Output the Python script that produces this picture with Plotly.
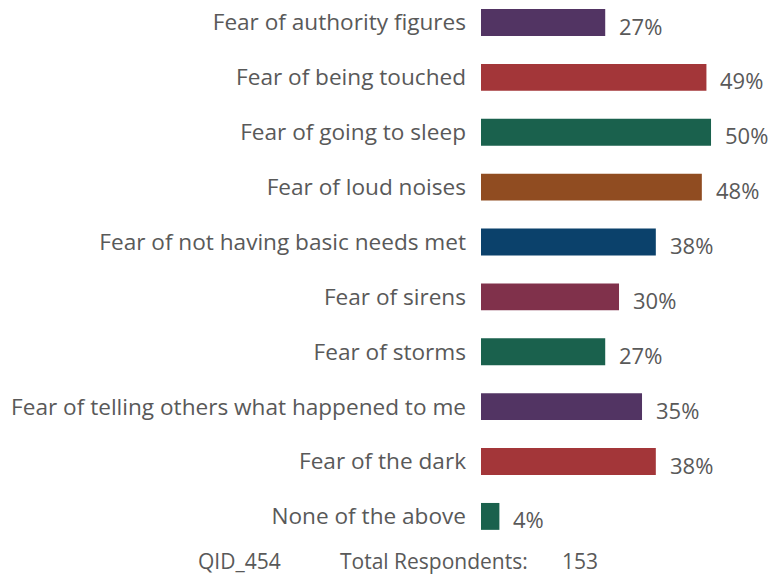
import plotly.graph_objects as go

categories = [
    "Fear of authority figures",
    "Fear of being touched",
    "Fear of going to sleep",
    "Fear of loud noises",
    "Fear of not having basic needs met",
    "Fear of sirens",
    "Fear of storms",
    "Fear of telling others what happened to me",
    "Fear of the dark",
    "None of the above",
]
values = [27, 49, 50, 48, 38, 30, 27, 35, 38, 4]
colors = ["#523463", "#A33639", "#1A614D", "#904C21", "#0B416B",
          "#80314B", "#1A614D", "#523463", "#A33639", "#1A614D"]
qid = "QID_454"
total_label = "Total Respondents:"
total_n = 153

FONT = "Open Sans"
GREY = "#595959"

fig = go.Figure(go.Bar(
    x=values, y=categories, orientation="h",
    marker=dict(color=colors, line=dict(width=0)),
    width=0.49, hoverinfo="skip",
))

for c, v in zip(categories, values):
    fig.add_annotation(x=v, y=c, text=f"{v}%", showarrow=False,
                       xanchor="left", xshift=12, yshift=-3,
                       font=dict(family=FONT, size=22, color=GREY))

# footer line
for txt, xp in [(qid, -0.985), (total_label, -0.492), (str(total_n), 0.279)]:
    fig.add_annotation(xref="paper", yref="paper", x=xp, y=-0.038,
                       xanchor="left", yanchor="middle", text=txt, showarrow=False,
                       borderpad=0, font=dict(family=FONT, size=21, color=GREY))

fig.update_layout(
    width=769, height=576,
    margin=dict(l=481, r=0, t=0, b=36),
    paper_bgcolor="white", plot_bgcolor="white",
    showlegend=False,
    font=dict(family=FONT, color=GREY),
)
fig.update_xaxes(range=[0, 62.6], visible=False)
fig.update_yaxes(type="category", range=[9.43, -0.41], showgrid=False,
                 showline=False, ticks="", ticklabelstandoff=14,
                 tickfont=dict(family=FONT, size=22.6, color=GREY))

fig.write_html("out.html", config={"displayModeBar": False},
               post_script="document.body.style.margin='0';")
